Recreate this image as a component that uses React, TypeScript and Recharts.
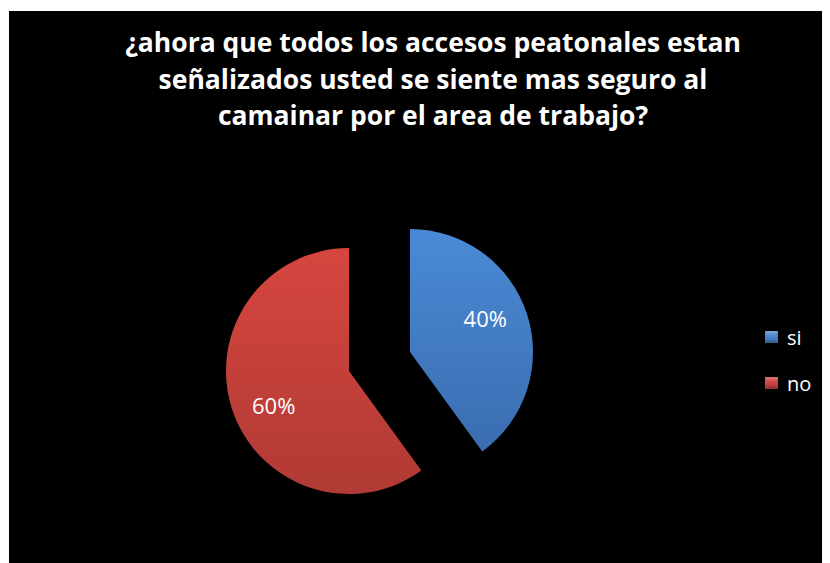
import { PieChart, Pie, Cell, Legend } from 'recharts';

const categories = ['si', 'no'];
const values = [40, 60];
const colors = ['url(#gradSi)', 'url(#gradNo)'];
const legendColors = ['#4a86cf', '#cf4440'];

const titleLines = [
  '¿ahora que todos los accesos peatonales estan',
  'señalizados usted se siente mas seguro al',
  'camainar por el area de trabajo?',
];

const data = categories.map((name, i) => ({ name, value: values[i] }));

const RADIAN = Math.PI / 180;

// label only for the slice that is visible in this pie
const makeLabel = (visible: number) => (props: any) => {
  const { cx, cy, midAngle, outerRadius, percent, index } = props;
  if (index !== visible) return null;
  const r = outerRadius * 0.67;
  const a = midAngle + 6; // excel sets labels a bit counter-clockwise
  const x = cx + r * Math.cos(-a * RADIAN);
  const y = cy + r * Math.sin(-a * RADIAN);
  return (
    <text
      x={x}
      y={y}
      fill="#fff"
      textAnchor="middle"
      dominantBaseline="central"
      fontSize={22}
      fontFamily="'Open Sans', sans-serif"
    >
      {`${Math.round(percent * 100)}%`}
    </text>
  );
};

const renderLegend = (props: any) => {
  const names = new Set((props.payload || []).map((p: any) => p.value));
  const items = categories.filter((c) => names.has(c));
  return (
    <div style={{ fontFamily: "'Open Sans', sans-serif", color: '#fff', fontSize: 20 }}>
      {items.map((name) => {
        const i = categories.indexOf(name);
        return (
          <div key={name} style={{ display: 'flex', alignItems: 'center', height: 46 }}>
            <span
              style={{
                width: 13,
                height: 12,
                background: legendColors[i],
                boxShadow: 'inset 0 -3px 3px rgba(0,0,0,0.3), inset 0 3px 3px rgba(255,255,255,0.25)',
                marginRight: 9,
              }}
            />
            {name}
          </div>
        );
      })}
    </div>
  );
};

export default function App() {
  return (
    <div style={{ paddingTop: 3, paddingLeft: 1 }}>
      <div
        style={{
          position: 'relative',
          width: 821,
          height: 552,
          background: '#000',
        }}
      >
        <div
          style={{
            position: 'absolute',
            top: 13,
            left: 0,
            width: 848,
            textAlign: 'center',
            color: '#fff',
            fontFamily: "'Open Sans', sans-serif",
            fontWeight: 700,
            fontSize: 26.5,
            lineHeight: '36.5px',
            zIndex: 1,
          }}
        >
          {titleLines.map((t) => (
            <div key={t}>{t}</div>
          ))}
        </div>
        <PieChart width={821} height={552} margin={{ top: 0, right: 0, bottom: 0, left: 0 }}>
          <defs>
            <linearGradient id="gradSi" x1="0" y1="0" x2="0" y2="1">
              <stop offset="0%" stopColor="#4a8ad6" />
              <stop offset="100%" stopColor="#3a6db0" />
            </linearGradient>
            <linearGradient id="gradNo" x1="0" y1="0" x2="0" y2="1">
              <stop offset="0%" stopColor="#d6463f" />
              <stop offset="100%" stopColor="#b03a35" />
            </linearGradient>
          </defs>
          <Pie
            data={data}
            dataKey="value"
            nameKey="name"
            cx={401}
            cy={341}
            outerRadius={123}
            startAngle={90}
            endAngle={-270}
            stroke="none"
            label={makeLabel(0)}
            labelLine={false}
            isAnimationActive={false}
          >
            {data.map((d, i) => (
              <Cell key={d.name} fill={i === 0 ? colors[0] : 'transparent'} />
            ))}
          </Pie>
          <Pie
            data={data}
            dataKey="value"
            nameKey="name"
            cx={340}
            cy={360}
            outerRadius={123}
            startAngle={90}
            endAngle={-270}
            stroke="none"
            label={makeLabel(1)}
            labelLine={false}
            isAnimationActive={false}
          >
            {data.map((d, i) => (
              <Cell key={d.name} fill={i === 1 ? colors[1] : 'transparent'} />
            ))}
          </Pie>
          <Legend
            layout="vertical"
            content={renderLegend}
            wrapperStyle={{ left: 756, top: 303, width: 60 }}
          />
        </PieChart>
      </div>
    </div>
  );
}
